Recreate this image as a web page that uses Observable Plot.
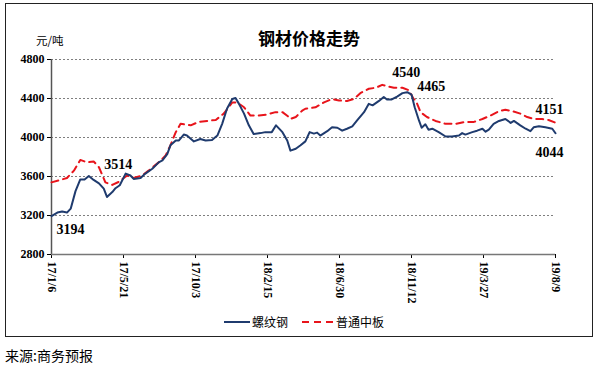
<!DOCTYPE html>
<html><head><meta charset="utf-8">
<script src="https://cdn.jsdelivr.net/npm/d3@7"></script>
<script src="https://cdn.jsdelivr.net/npm/@observablehq/plot@0.6"></script>
<style>
body{margin:0;background:#fff;width:597px;height:366px;overflow:hidden;position:relative;font-family:"Noto Sans CJK SC",sans-serif}
#box{position:absolute;left:5px;top:3px;width:586px;height:332px;border:1px solid #222;}
#chart{position:absolute;left:0;top:0;}
#title{position:absolute;left:0;width:606px;top:24px;text-align:center;font-size:17px;font-weight:bold;line-height:20px;color:#000}
#unit{position:absolute;left:30px;top:29px;font-size:11.5px;line-height:14px;color:#000}
#legend{position:absolute;left:218px;top:310px;font-size:12px;line-height:16px;display:flex;align-items:center;color:#000}
#legend svg{display:block}
#source{position:absolute;left:5px;top:346px;font-size:14px;line-height:18px;color:#000}
</style></head><body>
<div id="box"><div id="chart"></div>
<div id="title">钢材价格走势</div>
<div id="unit">元/吨</div>
<div id="legend">
<svg width="28" height="10"><line x1="0" x2="26" y1="5" y2="5" stroke="#1f3b6e" stroke-width="2"/></svg><span>螺纹钢</span>
<span style="width:14px"></span>
<svg width="34" height="10"><line x1="0" x2="32" y1="5" y2="5" stroke="#e8141b" stroke-width="2" stroke-dasharray="7,5"/></svg><span>普通中板</span>
</div>
</div>
<div id="source">来源:商务预报</div>
<script>
const startDate = "2017-01-06";
const endDate = "2019-08-09";
const tickDates = ["2017-01-06","2017-05-21","2017-10-03","2018-02-15","2018-06-30","2018-11-12","2019-03-27","2019-08-09"];
const tickLabels = ["17/1/6","17/5/21","17/10/3","18/2/15","18/6/30","18/11/12","19/3/27","19/8/9"];
const yTicks = [2800,3200,3600,4000,4400,4800];

// 螺纹钢 (days since 2017-01-06, price)
const rebarDays = [0,11,20,29,36,45,54,62,70,79,89,98,104,114,120,128,139,148,154,167,176,189,201,208,217,223,233,239,248,254,267,279,289,301,311,320,329,339,345,351,361,370,379,392,401,413,421,433,442,448,458,467,476,484,492,498,504,517,526,536,545,554,564,573,586,595,602,614,623,629,638,648,658,667,675,681,689,694,701,707,714,726,739,751,764,770,776,789,798,808,814,820,829,839,851,861,867,879,889,898,904,914,926,939,945];
const rebarValues = [3194,3230,3240,3230,3270,3450,3570,3570,3605,3565,3530,3475,3390,3440,3480,3510,3630,3610,3575,3585,3630,3680,3745,3765,3830,3920,3970,3970,4030,4020,3960,3985,3970,3975,4020,4140,4295,4395,4405,4350,4245,4125,4035,4045,4055,4055,4125,4055,3970,3865,3885,3920,3960,4055,4040,4050,4020,4065,4105,4100,4070,4090,4115,4175,4260,4345,4330,4375,4415,4390,4390,4420,4455,4465,4440,4310,4175,4100,4135,4080,4090,4055,4010,4010,4020,4045,4030,4055,4070,4090,4060,4080,4140,4170,4190,4150,4170,4125,4090,4065,4105,4115,4105,4090,4044];

// 普通中板
const plateDays = [0,14,29,42,54,67,79,89,101,114,126,142,154,170,182,201,214,223,233,242,261,276,292,308,323,339,348,361,373,389,404,420,433,445,448,458,470,476,495,511,526,539,554,567,579,595,608,620,629,642,658,670,679,683,692,704,720,739,758,776,792,808,823,839,851,864,879,892,904,920,932,945];
const plateValues = [3540,3560,3585,3660,3770,3745,3755,3695,3540,3514,3545,3610,3585,3610,3660,3745,3815,3920,4055,4140,4125,4160,4170,4180,4245,4360,4360,4310,4225,4225,4235,4260,4260,4210,4190,4210,4275,4295,4310,4360,4395,4380,4375,4395,4455,4500,4510,4540,4525,4510,4510,4485,4395,4380,4260,4210,4170,4140,4140,4160,4160,4190,4225,4270,4285,4270,4245,4210,4190,4190,4180,4151];

const seriesNames = ["螺纹钢","普通中板"];

const t0 = new Date(startDate);
const rebar = rebarDays.map((d,i)=>({date:d3.utcDay.offset(t0,d), value:rebarValues[i]}));
const plate = plateDays.map((d,i)=>({date:d3.utcDay.offset(t0,d), value:plateValues[i]}));
const ticks = tickDates.map(s=>new Date(s));
const fmt = d => tickLabels[ticks.findIndex(t=>+t===+d)];

const find = (arr, v) => arr.find(p=>p.value===v);
const ann = (arr, v, dx, dy) => Plot.text([find(arr,v)], {x:"date", y:"value", text:d=>String(d.value), dx, dy, fontSize:14, fontWeight:"bold", fill:"#000"});

const chart = Plot.plot({
  width:586, height:332,
  marginLeft:45, marginRight:37, marginTop:55, marginBottom:82,
  style:{fontFamily:'"Liberation Serif", "Times New Roman", serif', fontWeight:"bold", fontSize:"12px", color:"#000", background:"transparent", overflow:"visible"},
  x:{type:"utc", domain:[new Date(startDate), new Date(endDate)]},
  y:{domain:[2800,4800]},
  marks:[
    Plot.ruleY(yTicks.slice(1), {stroke:"#7f7f7f", strokeDasharray:"2,2", strokeWidth:1}),
    Plot.axisY({ticks:yTicks, tickFormat:d=>String(d), tickSize:4, tickPadding:3, label:null, fontSize:12, fontWeight:"bold"}),
    Plot.axisX({ticks:ticks, tickFormat:fmt, tickRotate:90, tickSize:4, tickPadding:3, label:null, fontSize:12, fontWeight:"bold"}),
    Plot.ruleX([new Date(startDate)], {stroke:"#555", strokeWidth:1.5}),
    Plot.ruleY([2800], {stroke:"#777", strokeWidth:1.5}),
    Plot.line(plate, {x:"date", y:"value", stroke:"#e8141b", strokeWidth:2, strokeDasharray:"7,5"}),
    Plot.line(rebar, {x:"date", y:"value", stroke:"#1f3b6e", strokeWidth:2}),
    ann(rebar, 3194, 19, 13),
    ann(plate, 3514, 6, -20),
    ann(plate, 4540, 24, -12),
    ann(rebar, 4465, 24, -6),
    ann(plate, 4151, -6, -13),
    ann(rebar, 4044, -6, 19)
  ]
});
document.getElementById("chart").appendChild(chart);
</script>
</body></html>
